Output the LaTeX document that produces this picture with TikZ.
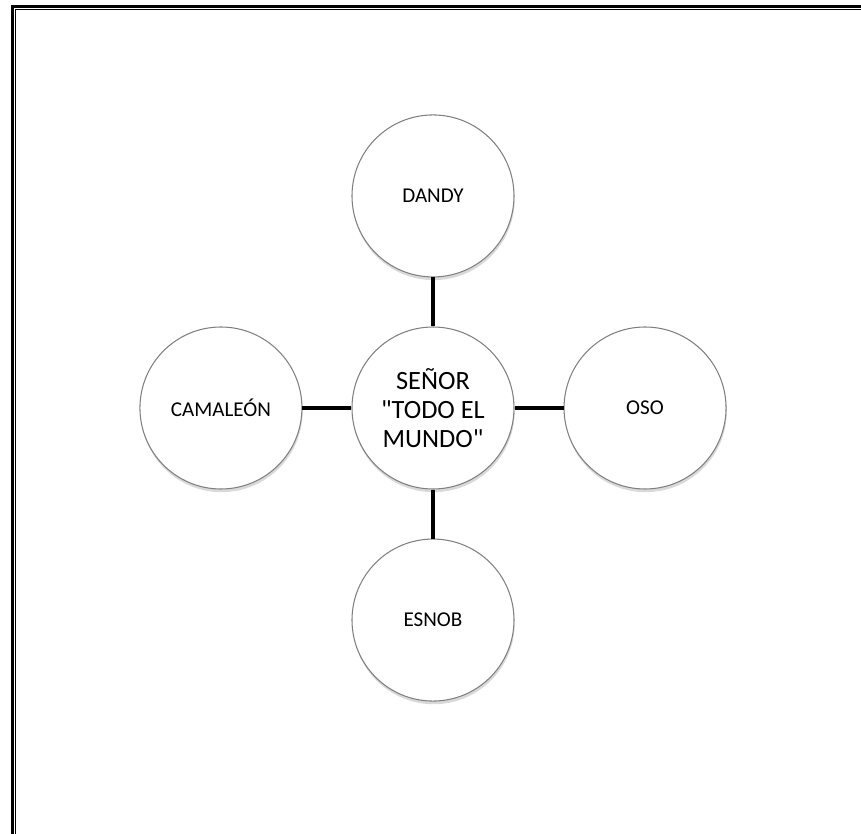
\documentclass[tikz,border=0pt]{standalone}
\usepackage{fontspec}
\setmainfont{Carlito}[Ligatures=TeXOff]
\usetikzlibrary{positioning,shadows}
\tikzset{
  rol/.style={circle,draw=black!50,line width=0.6pt,fill=white,minimum size=3.24cm,inner sep=0pt,align=center,
    font=\fontsize{12}{14}\selectfont,drop shadow={opacity=0.3,shadow xshift=0.4pt,shadow yshift=-1.8pt}},
  enlace/.style={line width=0.08cm}
}
\begin{document}
\begin{tikzpicture}
\useasboundingbox (-8.66,-8.52) rectangle (8.56,8.16);
\draw[line width=0.06cm] (-8.41,-8.52) -- (-8.41,8.02) -- (8.56,8.02);
\draw[line width=0.03cm] (-8.35,-8.52) -- (-8.35,7.965) -- (8.56,7.965);
\node[rol,font=\fontsize{15}{16.5}\selectfont] (senor) at (0,0) {SEÑOR\\"TODO EL\\MUNDO"};
\node[rol] (dandy) [above=0.98cm of senor] {DANDY};
\node[rol] (esnob) [below=0.98cm of senor] {ESNOB};
\node[rol] (camaleon) [left=0.98cm of senor] {CAMALEÓN};
\node[rol] (oso) [right=0.98cm of senor] {OSO};
\draw[enlace] (senor) -- (dandy);
\draw[enlace] (senor) -- (esnob);
\draw[enlace] (senor) -- (camaleon);
\draw[enlace] (senor) -- (oso);
\end{tikzpicture}
\end{document}
